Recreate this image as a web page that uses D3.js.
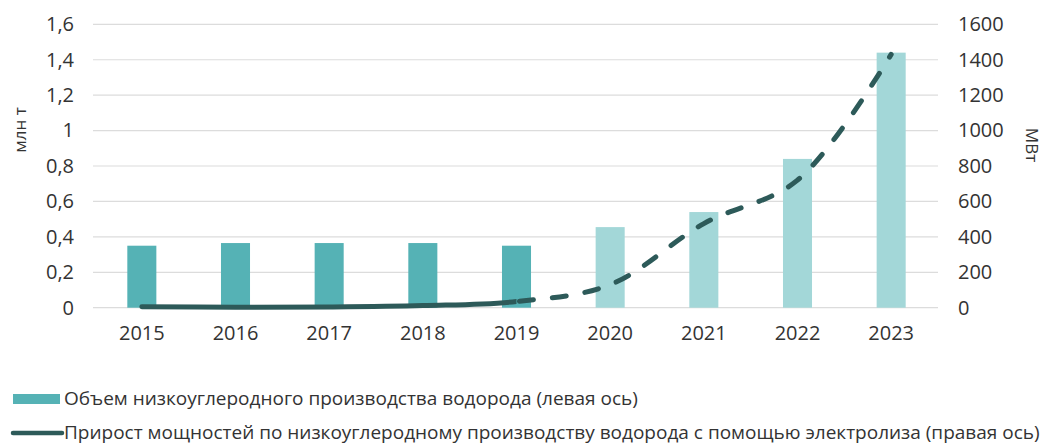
<!DOCTYPE html>
<html>
<head>
<meta charset="utf-8">
<script src="https://cdnjs.cloudflare.com/ajax/libs/d3/7.8.5/d3.min.js"></script>
<style>
  body { margin: 0; background: #fff; }
  text { font-family: "Open Sans", sans-serif; fill: #333; }
</style>
</head>
<body>
<script>
var years = ["2015", "2016", "2017", "2018", "2019", "2020", "2021", "2022", "2023"];
// млн т, левая ось
var volume = [0.35, 0.365, 0.365, 0.365, 0.35, 0.455, 0.54, 0.84, 1.44];
// МВт, правая ось
var capacity = [5, 3, 4, 12, 35, 130, 475, 720, 1430];
var leftTicks = [0, 0.2, 0.4, 0.6, 0.8, 1, 1.2, 1.4, 1.6];
var rightTicks = [0, 200, 400, 600, 800, 1000, 1200, 1400, 1600];
var lastActual = "2019";
var legendLabels = [
  "Объем низкоуглеродного производства водорода (левая ось)",
  "Прирост мощностей по низкоуглеродному производству водорода с помощью электролиза (правая ось)"
];

var w = 1051, h = 444;
var barDark = "#55b2b5", barLight = "#a3d7d8", lineColor = "#2d5a59";

var svg = d3.select("body").append("svg")
    .attr("width", w)
    .attr("height", h);

var x = d3.scaleBand()
    .domain(years)
    .range([95, 938])
    .paddingInner(0.69)
    .paddingOuter(0.345);

var yL = d3.scaleLinear().domain([0, 1.6]).range([307.7, 24.3]);
var yR = d3.scaleLinear().domain([0, 1600]).range([307.7, 24.3]);

// gridlines
svg.append("g").selectAll("line")
    .data(leftTicks)
    .enter()
    .append("line")
    .attr("x1", 93)
    .attr("x2", 938)
    .attr("y1", function(d){ return yL(d); })
    .attr("y2", function(d){ return yL(d); })
    .attr("stroke", "#dcdcdc")
    .attr("stroke-width", 1.2);

// left axis labels
var axL = svg.append("g")
    .attr("transform", "translate(80,0)")
    .call(d3.axisLeft(yL).tickValues(leftTicks).tickSize(0).tickPadding(6)
        .tickFormat(function(d){ return String(d).replace(".", ","); }));
axL.select(".domain").remove();
axL.selectAll("text").style("font-size", "20px").attr("fill", "#333");

// right axis labels
var axR = svg.append("g")
    .attr("transform", "translate(952,0)")
    .call(d3.axisRight(yR).tickValues(rightTicks).tickSize(0).tickPadding(6)
        .tickFormat(d3.format("d")));
axR.select(".domain").remove();
axR.selectAll("text").style("font-size", "20px").attr("fill", "#333");

// x axis labels
var axX = svg.append("g")
    .attr("transform", "translate(0,320)")
    .call(d3.axisBottom(x).tickSize(0).tickPadding(6));
axX.select(".domain").remove();
axX.selectAll("text").style("font-size", "20px").attr("fill", "#333");

// axis titles
svg.append("text")
    .attr("transform", "translate(26,130) rotate(-90)")
    .attr("text-anchor", "middle")
    .style("font-size", "17px")
    .text("млн т");
svg.append("text")
    .attr("transform", "translate(1026,145) rotate(90)")
    .attr("text-anchor", "middle")
    .style("font-size", "17px")
    .text("МВт");

// bars
var split = years.indexOf(lastActual);
svg.append("g").selectAll("rect")
    .data(volume)
    .enter()
    .append("rect")
    .attr("x", function(d, i){ return x(years[i]); })
    .attr("width", x.bandwidth())
    .attr("y", function(d){ return yL(d); })
    .attr("height", function(d){ return yL(0) - yL(d); })
    .attr("fill", function(d, i){ return i <= split ? barDark : barLight; });

// line
var line = d3.line()
    .x(function(d, i){ return x(years[i]) + x.bandwidth() / 2; })
    .y(function(d){ return yR(d); })
    .curve(d3.curveCatmullRom.alpha(0.5));

var xs = x(lastActual) + x.bandwidth() / 2;
var defs = svg.append("defs");
defs.append("clipPath").attr("id", "clipSolid")
    .append("rect").attr("x", 0).attr("y", 0).attr("width", xs).attr("height", h);
defs.append("clipPath").attr("id", "clipDash")
    .append("rect").attr("x", xs).attr("y", 0).attr("width", w - xs).attr("height", h);

svg.append("path")
    .datum(capacity)
    .attr("d", line)
    .attr("fill", "none")
    .attr("stroke", lineColor)
    .attr("stroke-width", 5)
    .attr("stroke-linecap", "round")
    .attr("clip-path", "url(#clipSolid)");

var dashed = svg.append("path")
    .datum(capacity)
    .attr("d", line)
    .attr("fill", "none")
    .attr("stroke", lineColor)
    .attr("stroke-width", 5)
    .attr("stroke-linecap", "round")
    .attr("stroke-dasharray", "14 19")
    .attr("clip-path", "url(#clipDash)");

// start the dash pattern at 2019
var node = dashed.node();
var total = node.getTotalLength();
var lo = 0, hi = total;
for (var k = 0; k < 40; k++) {
    var mid = (lo + hi) / 2;
    if (node.getPointAtLength(mid).x < xs) lo = mid; else hi = mid;
}
dashed.attr("stroke-dashoffset", -(lo + 3));

// legend
var lg = svg.append("g");
lg.append("rect")
    .attr("x", 13).attr("y", 394)
    .attr("width", 47).attr("height", 10)
    .attr("fill", barDark);
lg.append("line")
    .attr("x1", 13).attr("x2", 62)
    .attr("y1", 433).attr("y2", 433)
    .attr("stroke", lineColor)
    .attr("stroke-width", 4.5)
    .attr("stroke-linecap", "round");
lg.selectAll("text.lbl")
    .data(legendLabels)
    .enter()
    .append("text")
    .attr("class", "lbl")
    .attr("x", 64)
    .attr("y", function(d, i){ return 405 + i * 34; })
    .style("font-size", "19px")
    .text(function(d){ return d; });
</script>
</body>
</html>
